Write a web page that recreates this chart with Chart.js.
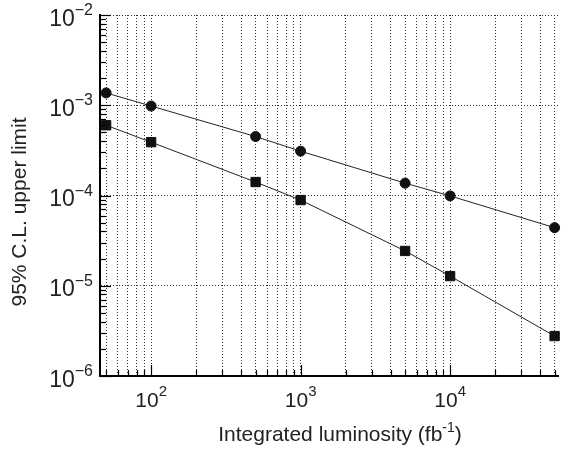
<!DOCTYPE html>
<html>
<head>
<meta charset="utf-8">
<script src="https://cdn.jsdelivr.net/npm/chart.js@4"></script>
<style>
  html, body { margin: 0; padding: 0; background: #fff; }
  #wrap { width: 566px; height: 451px; }
</style>
</head>
<body>
<div id="wrap"><canvas id="chart" width="566" height="451"></canvas></div>
<script>
// Data
const luminosity = [50, 100, 500, 1000, 5000, 10000, 50000];
const limitCircles = [1.37e-3, 9.8e-4, 4.5e-4, 3.1e-4, 1.37e-4, 9.9e-5, 4.4e-5];
const limitSquares = [6.0e-4, 3.9e-4, 1.41e-4, 8.9e-5, 2.43e-5, 1.28e-5, 2.77e-6];

// Tick labels (powers of ten)
const xLabelExps = [2, 3, 4];
const yLabelExps = [-6, -5, -4, -3, -2];

const FONT = '"Liberation Sans", Arial, Helvetica, sans-serif';

// every 1..9 x 10^n between min and max
function logSteps(min, max) {
  const out = [];
  for (let e = Math.floor(Math.log10(min)); e <= Math.ceil(Math.log10(max)); e++) {
    for (let m = 1; m < 10; m++) {
      const v = m * Math.pow(10, e);
      if (v >= min * 0.999 && v <= max * 1.001) out.push(v);
    }
  }
  return out;
}

function isDecade(v) {
  const l = Math.log10(v);
  return Math.abs(l - Math.round(l)) < 1e-6;
}

// power-of-ten label: "10" plus raised exponent
function drawPower(ctx, x, y, exp, baseSize, supSize, rise, align) {
  const base = '10';
  const sup = exp < 0 ? '\u2212' + Math.abs(exp) : String(exp);
  ctx.font = baseSize + 'px ' + FONT;
  const wb = ctx.measureText(base).width;
  ctx.font = supSize + 'px ' + FONT;
  const ws = ctx.measureText(sup).width;
  let left = align === 'right' ? x - wb - ws : x - (wb + ws) / 2;
  ctx.textAlign = 'left';
  ctx.textBaseline = 'alphabetic';
  ctx.font = baseSize + 'px ' + FONT;
  ctx.fillText(base, left, y);
  ctx.font = supSize + 'px ' + FONT;
  ctx.fillText(sup, left + wb, y - rise);
}

const axisDecor = {
  id: 'axisDecor',
  afterDraw(chart) {
    const ctx = chart.ctx;
    const xs = chart.scales.x;
    const ys = chart.scales.y;
    const area = chart.chartArea;
    ctx.save();
    ctx.strokeStyle = '#000';
    ctx.lineWidth = 1.2;

    // inward tick marks
    logSteps(xs.min, xs.max).forEach(v => {
      const px = Math.round(xs.getPixelForValue(v)) + 0.5;
      const len = isDecade(v) ? 11 : 6;
      ctx.beginPath();
      ctx.moveTo(px, area.bottom);
      ctx.lineTo(px, area.bottom - len);
      ctx.stroke();
    });
    logSteps(ys.min, ys.max).forEach(v => {
      const py = Math.round(ys.getPixelForValue(v)) + 0.5;
      const len = isDecade(v) ? 11 : 6;
      ctx.beginPath();
      ctx.moveTo(area.left, py);
      ctx.lineTo(area.left + len, py);
      ctx.stroke();
    });

    ctx.fillStyle = '#222';
    // tick labels
    xLabelExps.forEach(e => {
      const px = xs.getPixelForValue(Math.pow(10, e));
      drawPower(ctx, px, area.bottom + 31, e, 21, 15, 11, 'center');
    });
    yLabelExps.forEach(e => {
      const py = ys.getPixelForValue(Math.pow(10, e));
      drawPower(ctx, 93, py + 10.5, e, 23, 16, 10.5, 'right');
    });

    // x title with superscript
    const t1 = 'Integrated luminosity (fb';
    const t2 = '-1';
    const t3 = ')';
    ctx.font = '21px ' + FONT;
    const w1 = ctx.measureText(t1).width;
    const w3 = ctx.measureText(t3).width;
    ctx.font = '14px ' + FONT;
    const w2 = ctx.measureText(t2).width;
    let tx = 340 - (w1 + w2 + w3) / 2;
    ctx.textAlign = 'left';
    ctx.textBaseline = 'alphabetic';
    ctx.font = '21px ' + FONT;
    ctx.fillText(t1, tx, 441);
    ctx.font = '14px ' + FONT;
    ctx.fillText(t2, tx + w1, 441 - 9);
    ctx.font = '21px ' + FONT;
    ctx.fillText(t3, tx + w1 + w2, 441);

    // y title
    ctx.translate(26, 212);
    ctx.rotate(-Math.PI / 2);
    ctx.textAlign = 'center';
    ctx.textBaseline = 'alphabetic';
    ctx.font = '21px ' + FONT;
    ctx.fillText('95% C.L. upper limit', 0, 0);
    ctx.restore();
  }
};

const xMin = 45.5, xMax = 53000;
const yMin = 1e-6, yMax = 1e-2;

new Chart(document.getElementById('chart'), {
  type: 'scatter',
  data: {
    datasets: [
      {
        label: 'circles',
        data: luminosity.map((x, i) => ({ x: x, y: limitCircles[i] })),
        showLine: true,
        borderColor: '#222',
        borderWidth: 1,
        pointStyle: 'circle',
        pointRadius: 5,
        pointBackgroundColor: '#111',
        pointBorderColor: '#111',
        pointBorderWidth: 1,
        clip: false
      },
      {
        label: 'squares',
        data: luminosity.map((x, i) => ({ x: x, y: limitSquares[i] })),
        showLine: true,
        borderColor: '#222',
        borderWidth: 1,
        pointStyle: 'rect',
        pointRadius: 6.6,
        pointBackgroundColor: '#111',
        pointBorderColor: '#111',
        pointBorderWidth: 1,
        clip: false
      }
    ]
  },
  options: {
    responsive: false,
    animation: false,
    layout: { padding: { left: 100, top: 15, right: 0, bottom: 75 } },
    plugins: {
      legend: { display: false },
      tooltip: { enabled: false }
    },
    scales: {
      x: {
        type: 'logarithmic',
        min: xMin,
        max: xMax,
        afterBuildTicks: scale => {
          scale.ticks = logSteps(xMin, xMax).map(v => ({ value: v }));
        },
        ticks: { display: false },
        grid: { color: '#333', lineWidth: 1, drawTicks: false },
        border: { display: true, color: '#000', width: 2, dash: [1, 2] }
      },
      y: {
        type: 'logarithmic',
        min: yMin,
        max: yMax,
        afterBuildTicks: scale => {
          scale.ticks = yLabelExps.map(e => ({ value: Math.pow(10, e) }));
        },
        ticks: { display: false },
        grid: { color: '#333', lineWidth: 1, drawTicks: false },
        border: { display: true, color: '#000', width: 2, dash: [1, 2] }
      }
    }
  },
  plugins: [axisDecor]
});
</script>
</body>
</html>
